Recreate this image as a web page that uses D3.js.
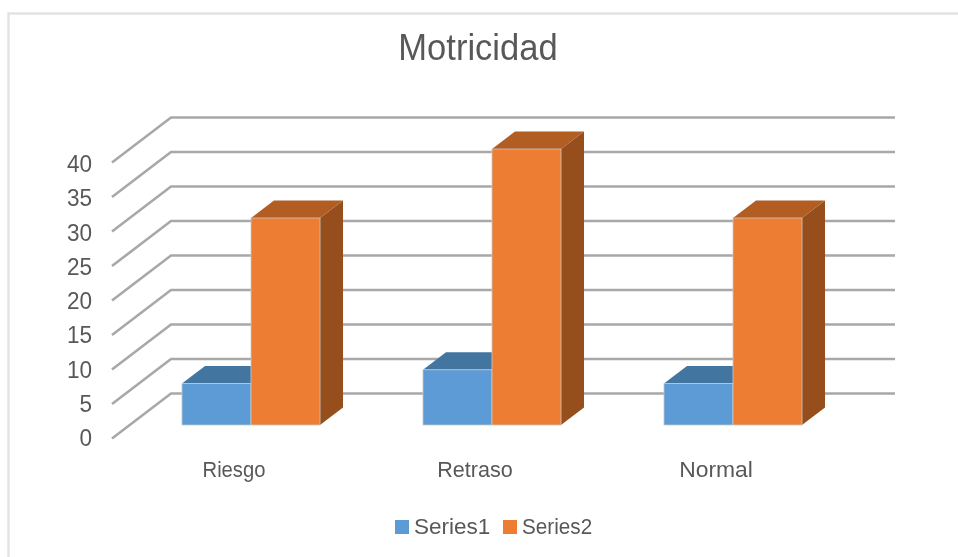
<!DOCTYPE html>
<html><head><meta charset="utf-8">
<script src="https://cdnjs.cloudflare.com/ajax/libs/d3/7.8.5/d3.min.js"></script>
<style>html,body{margin:0;padding:0;background:#fff}svg{display:block}text{font-family:"Liberation Sans",Arial,sans-serif;fill:#595959}</style>
</head><body><svg id="c" width="958" height="557"></svg>
<script>
const title = "Motricidad";
const categories = ["Riesgo","Retraso","Normal"];
const seriesNames = ["Series1","Series2"];
const series1 = [6,8,6];
const series2 = [30,40,30];
const yTicks = [0,5,10,15,20,25,30,35,40];
const frontColors = ["#5b9bd5","#ed7d31"];
const topColors = ["#42749f","#b25d24"];
const sideColors = ["#365f86","#964f1c"];

const svg = d3.select("#c");
const defs = svg.append("defs");
defs.append("filter").attr("id","soft").attr("x","-5%").attr("y","-5%").attr("width","110%").attr("height","110%")
  .append("feGaussianBlur").attr("stdDeviation",0.45);
const root = svg.append("g").attr("filter","url(#soft)");
root.append("rect").attr("width",958).attr("height",557).attr("fill","#fff");
root.append("path").attr("d","M8.5,570V13.5H970").attr("fill","none").attr("stroke","#e3e3e3").attr("stroke-width",2.4);

function label(parent,x,yy,size,sx,anchor,txt){
  return parent.append("text").attr("transform",`translate(${x},${yy}) scale(${sx},1)`)
    .attr("text-anchor",anchor).style("font-size",size+"px").text(txt);
}
label(root,478,60,36,0.96,"middle",title);

const y = d3.scaleLinear().domain([0,40]).range([0,276]);
const yLabel = d3.scaleLinear().domain([0,40]).range([446,172]);
const floor = {x0:112,x1:836,y:438.5,dx:59,dy:-45};
const g = root.append("g");
g.selectAll("path.grid").data(yTicks).join("path").attr("class","grid")
 .attr("d",d=>{const yy=floor.y-y(d);return d3.line()([[floor.x0,yy],[floor.x0+floor.dx,yy+floor.dy],[floor.x1+floor.dx,yy+floor.dy]]);})
 .attr("fill","none").attr("stroke","#a8a8a8").attr("stroke-width",2.6);
yTicks.forEach(d=>label(g,92,yLabel(d),23.5,0.96,"end",d));

const x0 = d3.scaleBand().domain(categories).range([130.5,853.5]).padding(0);
const x1 = d3.scaleBand().domain(seriesNames).range([0,x0.bandwidth()]).paddingInner(0).paddingOuter(0.746);
const base=425, bdx=23, bdy=-17.5;
const rows=[];
categories.forEach((c,i)=>{rows.push({c,s:0,v:series1[i]});rows.push({c,s:1,v:series2[i]});});
const bars = g.selectAll("g.bar").data(rows).join("g").attr("class","bar");
bars.append("path").attr("fill",d=>sideColors[d.s]).attr("d",d=>{
  const r=x0(d.c)+x1(seriesNames[d.s])+x1.bandwidth(),t=base-y(d.v);
  return `M${r},${t}l${bdx},${bdy}V${base+bdy}L${r},${base}Z`;});
bars.append("path").attr("fill",d=>topColors[d.s]).attr("d",d=>{
  const l=x0(d.c)+x1(seriesNames[d.s]),r=l+x1.bandwidth(),t=base-y(d.v);
  return `M${l},${t}l${bdx},${bdy}H${r+bdx}L${r},${t}Z`;});
bars.append("rect").attr("fill",d=>frontColors[d.s]).attr("stroke","#c9c9c9").attr("stroke-width",0.8)
  .attr("x",d=>x0(d.c)+x1(seriesNames[d.s])).attr("width",x1.bandwidth())
  .attr("y",d=>base-y(d.v)).attr("height",d=>y(d.v));

const labelOffset=-17;
const catStretch=[0.92,0.98,1.04];
categories.forEach((c,i)=>label(g,x0(c)+x0.bandwidth()/2+labelOffset,477,22,catStretch[i],"middle",c));

const leg=[{x:395,tx:414,sx:1.0},{x:503,tx:522,sx:0.92}];
seriesNames.forEach((s,i)=>{
  root.append("rect").attr("x",leg[i].x).attr("y",520).attr("width",14).attr("height",14).attr("fill",frontColors[i]);
  label(root,leg[i].tx,534,22.5,leg[i].sx,"start",s);
});
</script></body></html>
